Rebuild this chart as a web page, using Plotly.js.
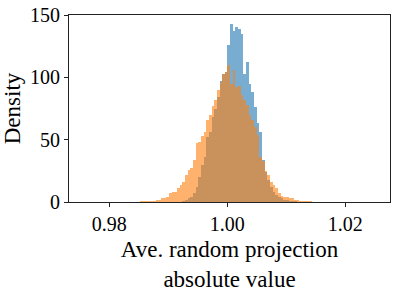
<!DOCTYPE html>
<html>
<head>
<meta charset="utf-8">
<script src="https://cdn.plot.ly/plotly-3.0.1.min.js"></script>
<style>
  html, body { margin: 0; padding: 0; background: #fff; }
  #chart { width: 398px; height: 293px; }
</style>
</head>
<body>
<div id="chart"></div>
<script>
// Histogram bin grid (shared by both series)
const binStart = 0.98521;
const binWidth = 0.00045;

// Orange series: densities for consecutive bins starting at bin index 0
const orangeFirstBin = 0;
const orangeDensity = [
  0.5, 0.6, 0.8, 0.8, 1.0, 1.0, 1.5, 2.0, 3, 3,
  4, 7, 8, 8, 11, 14, 16, 22, 26, 27,
  34, 47, 48, 53, 56, 66, 70, 77, 82, 90,
  96, 103, 104, 110, 95, 106, 92, 93, 86, 82,
  78, 70, 66, 60, 54, 36, 33, 25, 22, 16,
  14, 11, 7, 5, 4, 4, 3, 3, 2, 1.5,
  1, 1, 0.8, 0.5, 0.5, 0.3, 0.3
];

// Blue series: densities for consecutive bins starting at bin index 16
const blueFirstBin = 16;
const blueDensity = [
  1, 1.5, 3, 4, 7, 12, 20, 30, 36, 52,
  56, 68, 75, 84, 97, 103, 104, 126, 143, 137,
  140, 139, 135, 103, 112, 95, 88, 76, 63, 56,
  34, 24, 18, 12, 8, 6, 4, 3, 2, 1.5,
  1, 0.8, 0.5
];

const xTickVals = [0.98, 1.00, 1.02];
const xTickText = ['0.98', '1.00', '1.02'];
const yTickVals = [0, 50, 100, 150];
const yTickText = ['0', '50', '100', '150'];

function centers(first, n) {
  const out = [];
  for (let i = 0; i < n; i++) out.push(binStart + (first + i + 0.5) * binWidth);
  return out;
}

const FONT = 'Liberation Serif';

const traces = [
  {
    type: 'bar',
    x: centers(blueFirstBin, blueDensity.length),
    y: blueDensity,
    width: binWidth,
    marker: { color: '#1f77b4', line: { width: 0 } },
    opacity: 0.6,
    hoverinfo: 'skip'
  },
  {
    type: 'bar',
    x: centers(orangeFirstBin, orangeDensity.length),
    y: orangeDensity,
    width: binWidth,
    marker: { color: '#ff7f0e', line: { width: 0 } },
    opacity: 0.6,
    hoverinfo: 'skip'
  }
];

const layout = {
  width: 398,
  height: 293,
  margin: { l: 69, r: 8, t: 15, b: 91, pad: 0 },
  paper_bgcolor: '#ffffff',
  plot_bgcolor: '#ffffff',
  showlegend: false,
  barmode: 'overlay',
  bargap: 0,
  font: { family: FONT, color: '#000', size: 19 },
  xaxis: {
    range: [0.9732, 1.0276],
    tickvals: xTickVals,
    ticktext: xTickText,
    ticks: 'outside',
    ticklen: 4,
    tickwidth: 1,
    tickcolor: '#222',
    showline: true,
    linecolor: '#222',
    linewidth: 1,
    mirror: true,
    showgrid: false,
    zeroline: false,
    tickfont: { family: FONT, size: 20, color: '#000' },
    title: {
      text: 'Ave. random projection<br>absolute value',
      font: { family: FONT, size: 23, color: '#000' },
      standoff: 6
    }
  },
  yaxis: {
    range: [0, 150],
    tickvals: yTickVals,
    ticktext: yTickText,
    ticks: 'outside',
    ticklen: 4,
    tickwidth: 1,
    tickcolor: '#222',
    showline: true,
    linecolor: '#222',
    linewidth: 1,
    mirror: true,
    showgrid: false,
    zeroline: false,
    tickfont: { family: FONT, size: 20, color: '#000' },
    title: {
      text: 'Density',
      font: { family: FONT, size: 23, color: '#000' },
      standoff: 6
    }
  }
};

Plotly.newPlot('chart', traces, layout, { staticPlot: true, displayModeBar: false });
</script>
</body>
</html>
